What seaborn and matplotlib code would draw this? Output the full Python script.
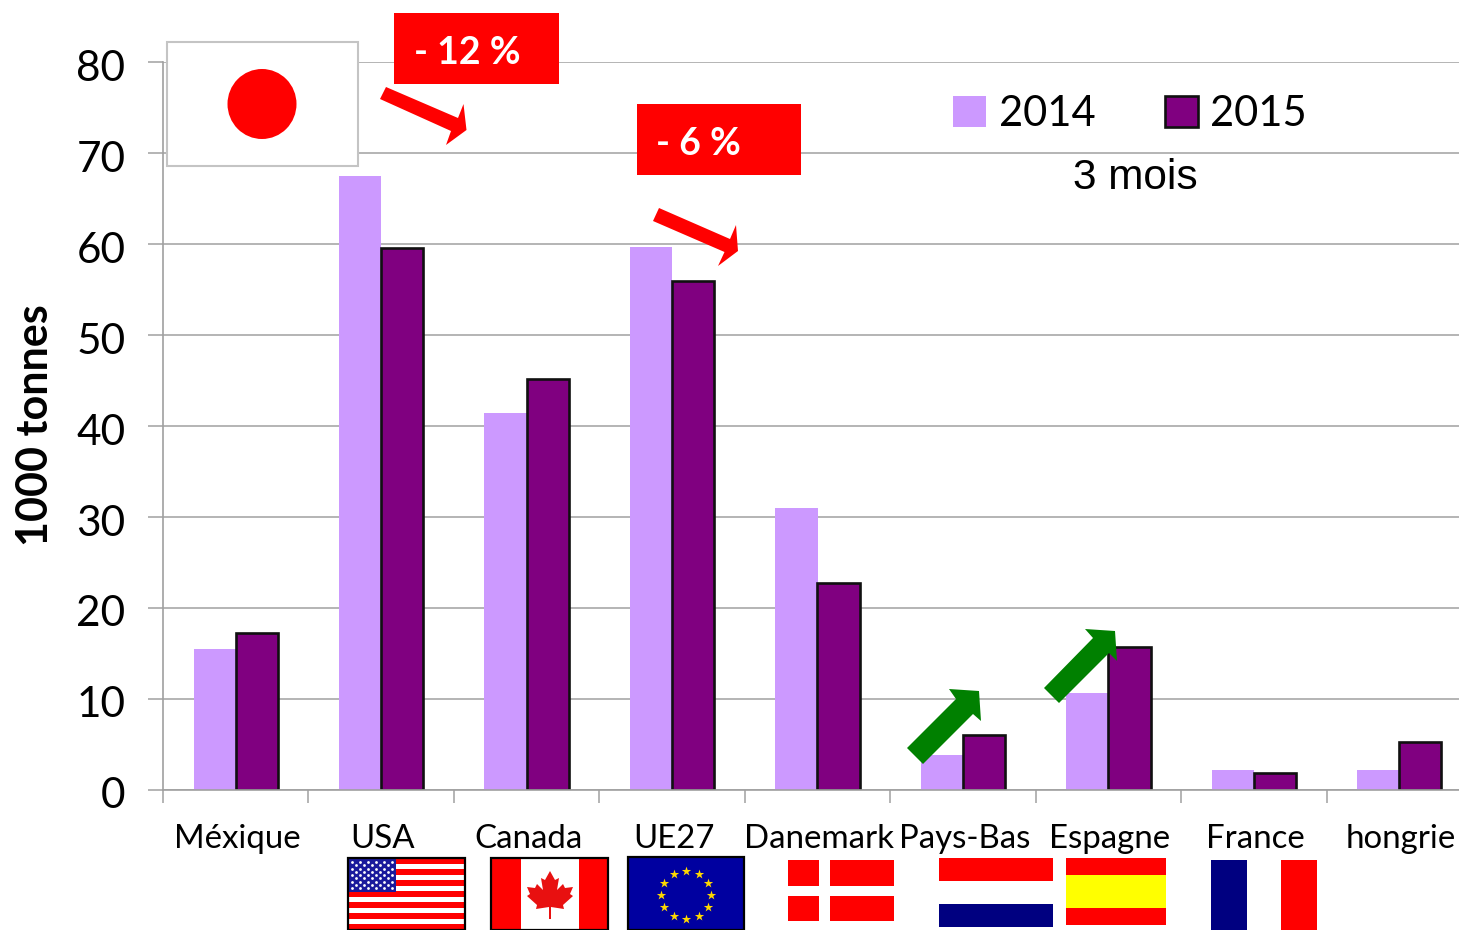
import numpy as np
import pandas as pd
import seaborn as sns
import matplotlib
matplotlib.use("Agg")
import matplotlib.pyplot as plt
from matplotlib.patches import Rectangle, Ellipse, Polygon
from matplotlib.transforms import ScaledTranslation

pays = ["Méxique", "USA", "Canada", "UE27", "Danemark", "Pays-Bas", "Espagne", "France", "hongrie"]
v2014 = [15.5, 67.5, 41.5, 59.7, 31.0, 3.8, 10.6, 2.2, 2.2]
v2015 = [17.3, 59.6, 45.2, 56.0, 22.8, 6.0, 15.7, 1.9, 5.3]
annees = ["2014", "2015"]
yticks = [0, 10, 20, 30, 40, 50, 60, 70, 80]

RED = "#ff0000"
GREEN = "#008000"
NAVY = "#000080"
GRIS = "#a0a0a0"

sns.set_theme(style="white")
plt.rcParams["font.family"] = ["Lato", "DejaVu Sans"]

W, H = 1459, 930
fig = plt.figure(figsize=(W / 100, H / 100), dpi=100)
# axe plus large que la figure : la derniere categorie est coupee a droite
ax = fig.add_axes([163 / W, (H - 789.8) / H, 1309 / W, 727.3 / H])

df = pd.DataFrame({"pays": pays * 2,
                   "annee": [annees[0]] * len(pays) + [annees[1]] * len(pays),
                   "valeur": v2014 + v2015})
sns.barplot(data=df, x="pays", y="valeur", hue="annee", order=pays, hue_order=annees,
            palette=["#cc99ff", "#800080"], width=0.58, gap=0, saturation=1,
            linewidth=0, ax=ax)

for b in ax.containers[1]:
    b.set_edgecolor("#101010")
    b.set_linewidth(1.9)

ax.set_xlim(-0.5, 8.5)
ax.set_ylim(0, 80)
ax.set_yticks(yticks)
ax.set_xlabel("")
ax.set_ylabel("")
ax.yaxis.grid(True, color=GRIS, linewidth=1.1)
ax.set_axisbelow(True)
sns.despine(ax=ax, top=True, right=True)
for s in ["left", "bottom"]:
    ax.spines[s].set_color(GRIS)
    ax.spines[s].set_linewidth(1.2)

ax.tick_params(axis="y", labelsize=30.5, length=11, width=1.1, color=GRIS, pad=16, left=True, labelcolor="black")
ax.set_xticks(np.arange(-0.5, 9, 1), minor=True)
ax.tick_params(axis="x", which="minor", length=9, width=1.1, color=GRIS, bottom=True)
ax.tick_params(axis="x", which="major", length=0, labelsize=23.8, pad=24.5, labelcolor="black")

# petits decalages des etiquettes
for lab in ax.get_yticklabels():
    lab.set_transform(lab.get_transform() + ScaledTranslation(0, -3 / 100, fig.dpi_scale_trans))
for lab in ax.get_xticklabels():
    lab.set_transform(lab.get_transform() + ScaledTranslation(1.5 / 100, 0, fig.dpi_scale_trans))

ax.legend(ax.containers, annees, frameon=False, ncols=2, fontsize=30, labelcolor="black",
          loc="upper left", bbox_to_anchor=((953 - 163) / 1309, 1 - (94.5 - 62) / 727),
          handlelength=0.8, handleheight=0.8, handletextpad=0.3, columnspacing=1.66,
          borderpad=0, borderaxespad=0)

# calque en pixels pour les drapeaux et les fleches
ov = fig.add_axes([0, 0, 1, 1], zorder=5)
ov.set_xlim(0, W)
ov.set_ylim(H, 0)
ov.axis("off")
ov.patch.set_alpha(0)


def rect(x0, y0, x1, y1, color, **kw):
    ov.add_patch(Rectangle((x0, y0), x1 - x0, y1 - y0, facecolor=color, edgecolor="none", **kw))


def cadre(x0, y0, x1, y1, color="black", lw=1.6):
    ov.add_patch(Rectangle((x0, y0), x1 - x0, y1 - y0, facecolor="none", edgecolor=color, linewidth=lw))


fig.text(35 / W, 1 - 425 / H, "1000 tonnes", rotation=90, fontsize=31, fontweight="bold",
         color="black", ha="center", va="center")
ov.text(1135, 178, "3 mois", fontsize=30.5, family="Liberation Sans", color="black", ha="center", va="center")

# Japon
rect(167, 42, 358, 166, "white")
cadre(167, 42, 358, 166, "#c4c4c4", 1.5)
ov.add_patch(Ellipse((262, 104), 69, 70, facecolor=RED, edgecolor="none"))

# pourcentages
rect(394, 13, 559, 84, RED)
ov.text(414, 53, "- 12 %", fontsize=27, fontweight="bold", color="white", ha="left", va="center")
rect(637, 104, 801, 175, RED)
ov.text(656, 144, "- 6 %", fontsize=27, fontweight="bold", color="white", ha="left", va="center")

# fleches
fleches = [
    (RED, [(386, 87), (380, 99), (451, 131), (446, 145), (466.5, 130), (463.5, 104), (458, 118)]),
    (RED, [(659, 208), (653, 221), (724.5, 252), (718, 266), (738, 251), (736, 225), (730, 239)]),
    (GREEN, [(907, 748), (923, 764), (973, 714), (981, 721), (979, 691), (949, 689), (956, 699)]),
    (GREEN, [(1044, 688), (1059, 703), (1109, 653), (1117, 661), (1115, 631), (1085, 629), (1093, 638)]),
]
for c, pts in fleches:
    ov.add_patch(Polygon(pts, closed=True, facecolor=c, edgecolor="none"))

# USA
for i in range(13):
    rect(348, 858 + i * 72 / 13, 465, 858 + (i + 1) * 72 / 13, RED if i % 2 == 0 else "white")
rect(348, 858, 396, 892, "#1a1a9c")
xs, ys = np.meshgrid(np.linspace(352, 392, 6), np.linspace(862, 888, 5))
ov.scatter(xs.ravel(), ys.ravel(), s=4, color="white", linewidths=0)
xs, ys = np.meshgrid(np.linspace(356, 388, 5), np.linspace(865, 885, 4))
ov.scatter(xs.ravel(), ys.ravel(), s=4, color="white", linewidths=0)
cadre(348, 858, 465, 930)

# Canada
rect(491, 858, 608, 930, RED)
rect(521, 858, 579, 930, "white")
feuille = [(0, -19), (5, -10), (9, -12), (7, 0), (13, -6), (15, -2), (23, -3), (20, 4), (23, 6),
           (13, 15), (14, 19), (1, 17), (1, 29), (-1, 29), (-1, 17), (-14, 19), (-13, 15),
           (-23, 6), (-20, 4), (-23, -3), (-15, -2), (-13, -6), (-7, 0), (-9, -12), (-5, -10)]
ov.add_patch(Polygon([(550 + a, 890 + b) for a, b in feuille], closed=True, facecolor="#e81010", edgecolor="none"))
cadre(491, 858, 608, 930)

# UE
rect(628, 857, 744, 930, "#0000a0")
ang = np.arange(12) * np.pi / 6
ov.scatter(686 + 25 * np.cos(ang), 895 + 24 * np.sin(ang), marker="*", s=50, color="#ffd800", linewidths=0)
cadre(628, 857, 744, 930)

# Danemark
rect(788, 860, 894, 921, RED)
rect(819, 860, 830, 921, "white")
rect(788, 886, 894, 896, "white")

# Pays-Bas
rect(939, 858, 1053, 881, RED)
rect(939, 904, 1053, 927, NAVY)

# Espagne
rect(1066, 858, 1166, 925, RED)
rect(1066, 875, 1166, 908, "#ffff00")

# France
rect(1211, 860, 1247, 930, NAVY)
rect(1281, 860, 1317, 930, RED)

fig.savefig("out.png", dpi=100)
